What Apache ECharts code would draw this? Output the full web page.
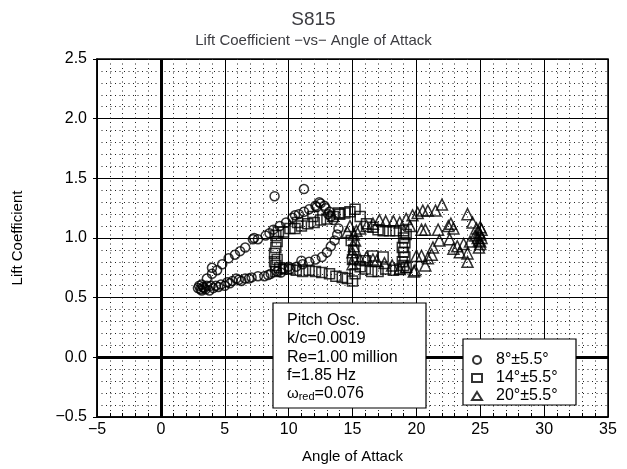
<!DOCTYPE html>
<html>
<head>
<meta charset="utf-8">
<script src="https://cdn.jsdelivr.net/npm/echarts@6/dist/echarts.min.js"></script>
<style>
  html, body { margin: 0; padding: 0; background: #fff; }
  #chart { width: 627px; height: 469px; }
</style>
</head>
<body>
<div id="chart"></div>
<script>
// x ticks / y ticks
const X_MIN = -5, X_MAX = 35, X_STEP = 5;
const Y_MIN = -0.5, Y_MAX = 2.5, Y_STEP = 0.5;

const SERIES_NAMES = ['8°±5.5°', '14°±5.5°', '20°±5.5°'];

// 8 deg +- 5.5 deg (circles)
const circleX = [
  2.9, 3.0, 3.1, 3.3, 3.5, 3.6, 3.9, 4.3, 4.7, 5.2, 5.6, 6.1, 6.6, 7.1, 7.6, 8.1, 8.6, 9.1, 9.6, 10.1,
  10.6, 11.1, 11.6, 12.1, 12.6, 13.0, 13.3, 13.6, 13.8, 13.9,
  13.5, 13.2, 12.8, 12.5, 12.1, 11.6, 11.2, 10.8, 10.3, 9.8, 9.3, 8.8, 8.5, 8.2, 7.6, 7.2, 6.6, 6.2,
  5.8, 5.3, 4.8, 4.4, 4.0, 3.6, 3.2,
  8.9, 11.2, 12.4, 12.9, 13.3, 11.0, 10.0, 4.0, 5.9, 7.3,
  3.2, 3.4, 3.8, 4.1, 4.5, 5.0, 5.4, 6.3, 6.9, 8.4, 9.4, 12.2, 13.1, 10.5
];
const circleY = [
  0.58, 0.60, 0.57, 0.59, 0.57, 0.60, 0.60, 0.60, 0.61, 0.63, 0.64, 0.65, 0.66, 0.67, 0.68, 0.68, 0.70, 0.72, 0.74, 0.74,
  0.76, 0.78, 0.80, 0.82, 0.84, 0.88, 0.93, 0.98, 1.03, 1.08,
  1.15, 1.22, 1.27, 1.29, 1.27, 1.24, 1.22, 1.20, 1.17, 1.13, 1.10, 1.07, 1.04, 1.02, 0.99, 0.99, 0.92, 0.89,
  0.86, 0.83, 0.78, 0.73, 0.70, 0.66, 0.61,
  1.35, 1.41, 1.30, 1.25, 1.18, 0.81, 0.76, 0.75, 0.66, 1.00,
  0.56, 0.58, 0.56, 0.58, 0.59, 0.60, 0.62, 0.64, 0.66, 0.69, 0.71, 1.26, 1.20, 1.19
];

// 14 deg +- 5.5 deg (squares)
const squareX = [
  9.0, 9.0, 9.1, 8.9, 9.0, 9.1, 9.0, 9.2, 8.9, 9.3,
  9.6, 10.1, 10.5, 11.0, 11.5, 12.0, 12.5, 13.0, 13.5, 14.0, 14.4, 14.8, 15.2, 15.6, 16.1, 16.6, 17.0,
  17.4, 17.9, 18.4, 19.0, 19.2,
  19.0, 19.1, 18.9, 19.0, 19.1, 18.9, 19.0, 19.2,
  18.7, 18.2, 17.6, 17.0, 16.5, 16.0, 15.6, 15.2, 15.0, 14.6, 14.2, 13.7, 13.2, 12.6, 12.1, 11.6, 11.1,
  10.6, 10.1, 9.6,
  15.0, 15.1, 14.9, 16.0, 16.6, 17.4, 10.7, 11.9, 13.9
];
const squareY = [
  0.72, 0.77, 0.82, 0.87, 0.92, 0.97, 1.02, 1.05, 0.80, 0.75,
  1.05, 1.08, 1.08, 1.10, 1.12, 1.13, 1.15, 1.16, 1.18, 1.20, 1.21, 1.22, 1.24, 1.18, 1.12, 1.09, 1.07,
  1.06, 1.06, 1.06, 1.06, 1.03,
  1.00, 0.96, 0.92, 0.88, 0.84, 0.80, 0.77, 0.75,
  0.74, 0.73, 0.74, 0.72, 0.72, 0.74, 0.76, 0.70, 0.64, 0.66, 0.67, 0.68, 0.70, 0.71, 0.72, 0.73, 0.72,
  0.73, 0.74, 0.74,
  0.82, 0.90, 0.98, 0.81, 0.85, 0.84, 1.13, 1.18, 1.21
];

// 20 deg +- 5.5 deg (triangles)
const triangleX = [
  15.0, 15.1, 15.0, 15.1, 15.2, 15.1, 15.3, 14.8, 14.6,
  15.6, 16.1, 16.6, 16.9, 17.5, 18.1, 18.7, 19.2, 19.9,
  15.6, 16.1, 16.6, 17.1, 17.6, 18.2, 18.7, 19.2, 19.7, 20.1, 20.5, 20.9, 21.5, 22.0,
  20.4, 20.7, 21.7, 21.8, 21.3, 22.5, 22.7, 22.9, 22.6, 22.9, 23.4, 24.0, 24.0, 23.2, 23.7, 24.2, 24.6,
  24.0, 24.4, 24.7,
  24.9, 25.0, 24.9, 25.1, 25.0, 24.9, 25.1, 25.0, 24.8, 25.0,
  20.4, 20.9, 20.7, 21.2, 20.0, 19.5, 19.8
];
const triangleY = [
  0.78, 0.83, 0.88, 0.93, 0.98, 1.03, 1.06, 1.10, 1.05,
  0.82, 0.84, 0.82, 0.81, 0.79, 0.77, 0.74, 0.76, 0.73,
  1.08, 1.10, 1.12, 1.15, 1.14, 1.14, 1.13, 1.16, 1.19, 1.21, 1.23, 1.23, 1.23, 1.28,
  1.07, 1.07, 1.07, 0.98, 0.92, 1.10, 1.12, 1.08, 0.99, 0.91, 0.88, 0.87, 0.80, 0.93, 0.95, 0.97, 1.02,
  1.20, 1.13, 1.08,
  0.92, 0.95, 0.98, 1.00, 1.03, 1.05, 1.07, 0.97, 1.00, 1.09,
  0.85, 0.83, 0.77, 0.86, 0.85, 1.10, 0.72
];

const FONT = 'Liberation Sans';

function pairs(xs, ys) {
  return xs.map((x, i) => [x, ys[i]]);
}

function minus(v) {
  return String(v).replace('-', '\u2212');
}

function hollow(name, symbol, size, xs, ys) {
  return {
    name,
    type: 'scatter',
    symbol,
    symbolSize: size,
    itemStyle: { color: 'rgba(0,0,0,0)', borderColor: '#000', borderWidth: 1.5 },
    data: pairs(xs, ys),
    z: 3,
  };
}

const chart = echarts.init(document.getElementById('chart'), null, { renderer: 'canvas' });

const series = [
  hollow(SERIES_NAMES[0], 'circle', 9, circleX, circleY),
  hollow(SERIES_NAMES[1], 'rect', 10, squareX, squareY),
  hollow(SERIES_NAMES[2], 'triangle', 11, triangleX, triangleY),
];

// heavy zero lines
series[0].markLine = {
  silent: true,
  symbol: 'none',
  label: { show: false },
  lineStyle: { color: '#000', width: 3, type: 'solid' },
  data: [{ xAxis: 0 }, { yAxis: 0 }],
  z: 2,
};

const option = {
  backgroundColor: '#fff',
  animation: false,
  textStyle: { fontFamily: FONT, color: '#000' },
  title: [
    { text: 'S815', left: 'center', top: 5, textStyle: { fontSize: 19, fontWeight: 'normal', fontFamily: FONT } },
    { text: 'Lift Coefficient \u2212vs\u2212 Angle of Attack', left: 'center', top: 28, textStyle: { fontSize: 15, fontWeight: 'normal', fontFamily: FONT } },
  ],
  grid: { left: 97, right: 19, top: 59, bottom: 50, show: true, borderColor: '#000', borderWidth: 1.5, backgroundColor: 'transparent' },
  xAxis: {
    type: 'value',
    min: X_MIN, max: X_MAX, interval: X_STEP,
    name: 'Angle of Attack',
    nameLocation: 'middle',
    nameGap: 32,
    nameTextStyle: { fontSize: 15, color: '#000', fontFamily: FONT },
    axisLine: { show: true, onZero: false, lineStyle: { color: '#000', width: 1.5 } },
    axisTick: { show: true, inside: true, length: 6, lineStyle: { color: '#000' } },
    minorTick: { show: true, splitNumber: 5, length: 4, lineStyle: { color: '#000' } },
    axisLabel: { fontSize: 16, color: '#000', margin: 5, formatter: v => minus(v) },
    splitLine: { show: true, lineStyle: { color: '#000', width: 1 } },
    minorSplitLine: { show: true, lineStyle: { color: '#222', width: 1, type: [1, 3.5] } },
  },
  yAxis: {
    type: 'value',
    min: Y_MIN, max: Y_MAX, interval: Y_STEP,
    name: 'Lift Coefficient',
    nameLocation: 'middle',
    nameGap: 72,
    nameRotate: 90,
    nameTextStyle: { fontSize: 15, color: '#000', fontFamily: FONT },
    axisLine: { show: true, onZero: false, lineStyle: { color: '#000', width: 1.5 } },
    axisTick: { show: true, inside: false, length: 4, lineStyle: { color: '#000' } },
    axisLabel: { fontSize: 16, color: '#000', margin: 10, formatter: v => minus(v.toFixed(1)) },
    splitLine: { show: true, lineStyle: { color: '#000', width: 1 } },
    minorTick: { show: false, splitNumber: 5 },
    minorSplitLine: { show: true, lineStyle: { color: '#222', width: 1, type: [1, 3.5] } },
  },
  legend: {
    orient: 'vertical',
    left: 471,
    top: 352,
    z: 20,
    itemWidth: 10,
    itemHeight: 8,
    itemGap: 2,
    padding: 0,
    textStyle: { fontSize: 16, color: '#000', fontFamily: FONT, padding: [0, 0, 0, 9] },
    data: SERIES_NAMES,
  },
  graphic: [
    {
      type: 'rect', z: 10,
      shape: { x: 273, y: 303, width: 153, height: 105 },
      style: { fill: '#fff', stroke: '#000', lineWidth: 1.2 },
    },
    {
      type: 'rect', z: 10,
      shape: { x: 463, y: 339, width: 113, height: 66 },
      style: { fill: '#fff', stroke: '#000', lineWidth: 1.2 },
    },
    { type: 'text', z: 11, left: 287, top: 313, style: { text: 'Pitch Osc.', font: '16px ' + FONT, fill: '#000' } },
    { type: 'text', z: 11, left: 287, top: 331, style: { text: 'k/c=0.0019', font: '16px ' + FONT, fill: '#000' } },
    { type: 'text', z: 11, left: 287, top: 350, style: { text: 'Re=1.00 million', font: '16px ' + FONT, fill: '#000' } },
    { type: 'text', z: 11, left: 287, top: 368, style: { text: 'f=1.85 Hz', font: '16px ' + FONT, fill: '#000' } },
    {
      type: 'text', z: 11, left: 287, top: 386,
      style: {
        text: '{w|\u03c9}{s|red}{n|=0.076}',
        font: '16px ' + FONT,
        fill: '#000',
        rich: {
          w: { fontSize: 15, fontFamily: FONT, fill: '#000' },
          s: { fontSize: 11, fontFamily: FONT, fill: '#000', verticalAlign: 'bottom', padding: [4, 0, 0, 0] },
          n: { fontSize: 16, fontFamily: FONT, fill: '#000' },
        },
      },
    },
  ],
  series,
};

chart.setOption(option);
</script>
</body>
</html>
